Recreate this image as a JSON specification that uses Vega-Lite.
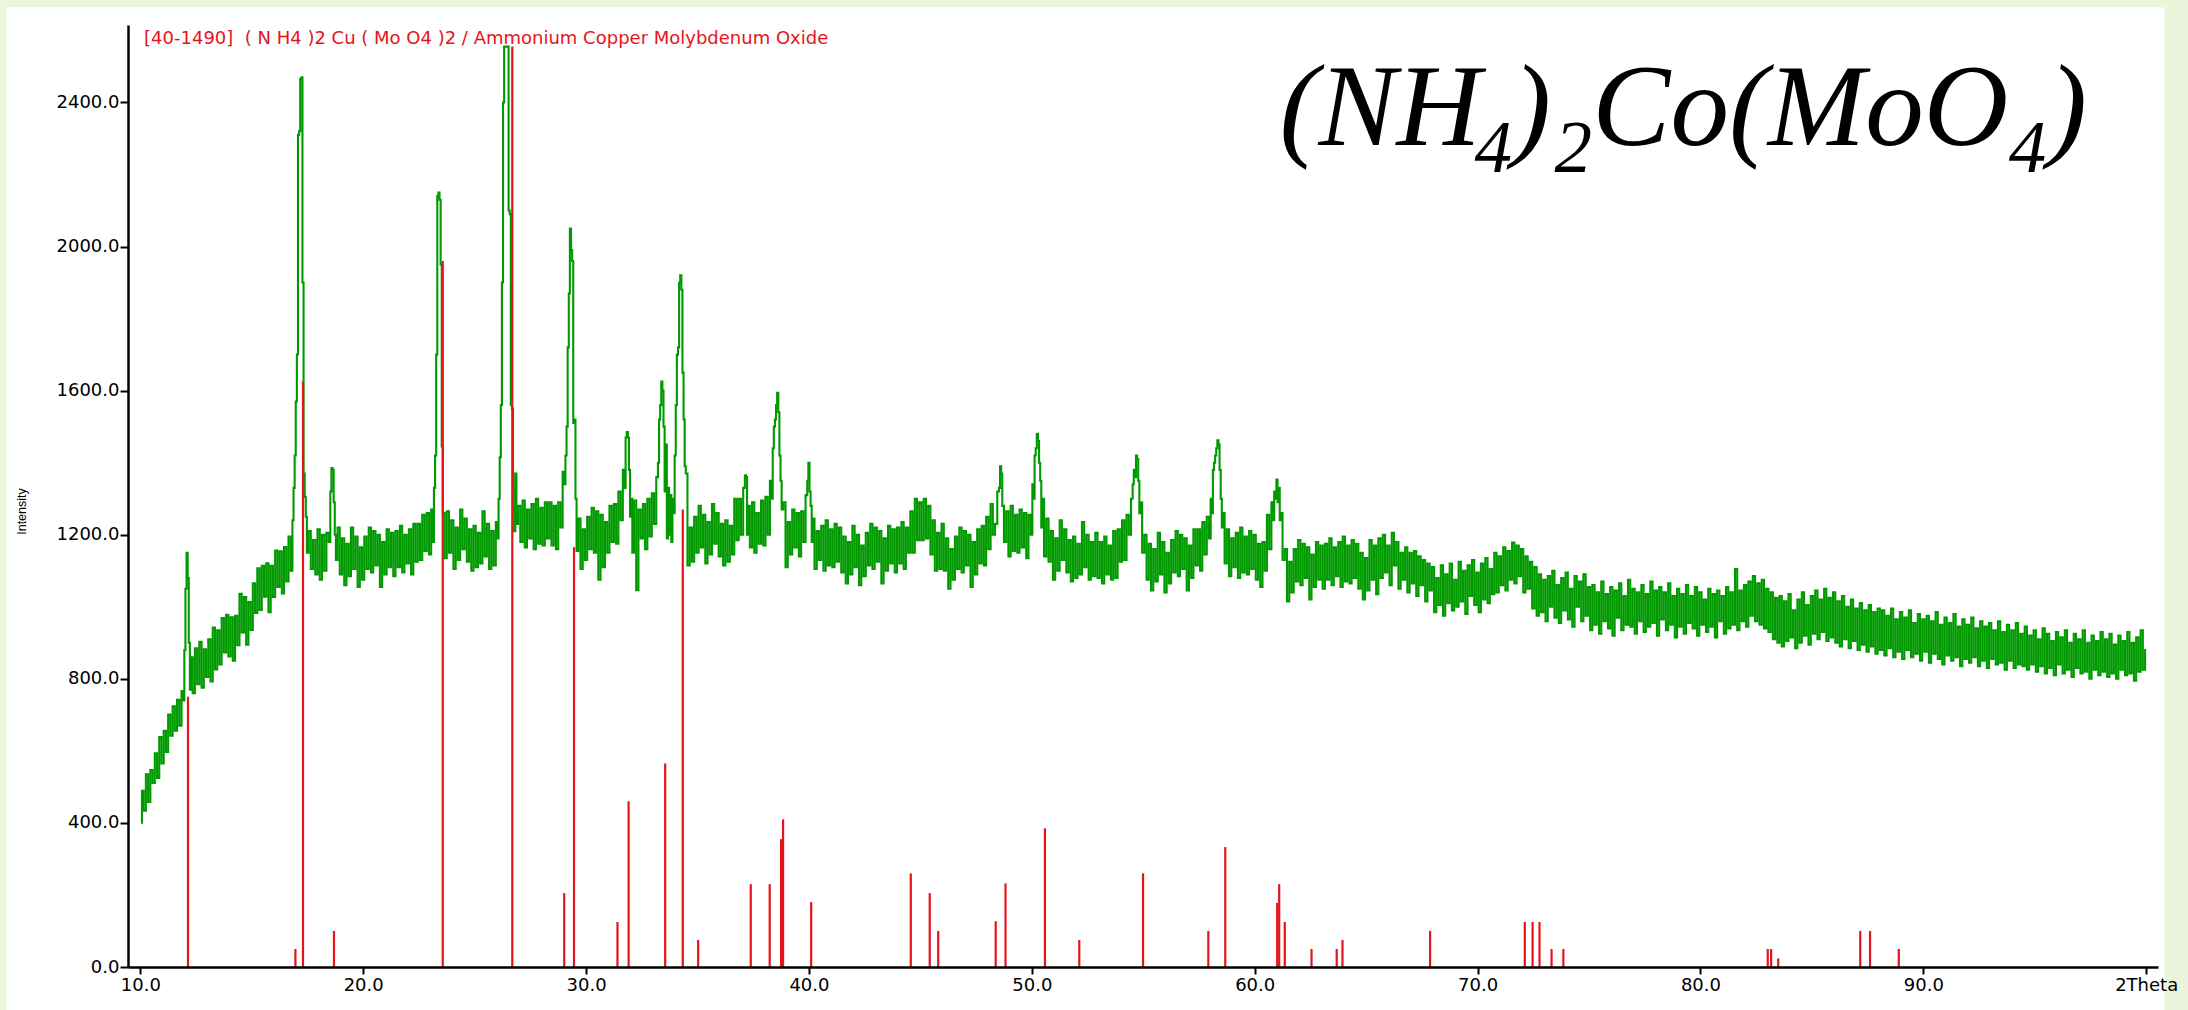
{
  "$schema": "https://vega.github.io/schema/vega-lite/v6.json",
  "width": 2030,
  "height": 942,
  "autosize": {"type": "none"},
  "padding": {"left": 128, "top": 25, "right": 30, "bottom": 43},
  "background": "#EBF5DC",
  "config": {"view": {"stroke": null}},
  "datasets": {
    "xrd": [
      {"t":10.05,"i":400},{"t":10.1,"i":489},{"t":10.2,"i":434},{"t":10.3,"i":535},{"t":10.4,"i":458},{"t":10.5,"i":547},{"t":10.6,"i":511},{"t":10.7,"i":593},{"t":10.8,"i":525},{"t":10.9,"i":638},
      {"t":11.0,"i":565},{"t":11.1,"i":656},{"t":11.2,"i":597},{"t":11.3,"i":701},{"t":11.4,"i":642},{"t":11.5,"i":724},{"t":11.6,"i":656},{"t":11.7,"i":742},{"t":11.8,"i":670},{"t":11.9,"i":766},{"t":11.95,"i":740},
      {"t":12.0,"i":880},{"t":12.05,"i":1050},{"t":12.1,"i":1150},{"t":12.15,"i":1080},{"t":12.2,"i":900},{"t":12.25,"i":770},{"t":12.3,"i":860},
      {"t":12.4,"i":760},{"t":12.5,"i":885},{"t":12.6,"i":785},{"t":12.7,"i":903},{"t":12.8,"i":775},{"t":12.9,"i":882},{"t":13.0,"i":805},{"t":13.1,"i":910},{"t":13.2,"i":793},{"t":13.3,"i":942},{"t":13.4,"i":826},{"t":13.5,"i":935},{"t":13.6,"i":840},{"t":13.7,"i":969},{"t":13.8,"i":873},{"t":13.9,"i":978},
      {"t":14.0,"i":862},{"t":14.1,"i":971},{"t":14.2,"i":850},{"t":14.3,"i":975},{"t":14.4,"i":893},{"t":14.5,"i":1036},{"t":14.6,"i":929},{"t":14.7,"i":1027},{"t":14.8,"i":895},{"t":14.9,"i":1013},
      {"t":15.0,"i":936},{"t":15.1,"i":1065},{"t":15.2,"i":983},{"t":15.3,"i":1107},{"t":15.4,"i":991},{"t":15.5,"i":1114},{"t":15.6,"i":1028},{"t":15.7,"i":1121},{"t":15.8,"i":985},{"t":15.9,"i":1114},
      {"t":16.0,"i":1027},{"t":16.1,"i":1156},{"t":16.2,"i":1055},{"t":16.3,"i":1154},{"t":16.4,"i":1037},{"t":16.5,"i":1166},{"t":16.6,"i":1070},{"t":16.7,"i":1195},{"t":16.8,"i":1100},{"t":16.85,"i":1240},{"t":16.9,"i":1330},{"t":16.95,"i":1420},
      {"t":17.0,"i":1570},{"t":17.05,"i":1700},{"t":17.1,"i":2310},{"t":17.15,"i":2320},{"t":17.2,"i":2465},{"t":17.25,"i":2470},{"t":17.3,"i":1900},{"t":17.35,"i":1370},{"t":17.4,"i":1305},{"t":17.45,"i":1250},{"t":17.5,"i":1150},
      {"t":17.6,"i":1210},{"t":17.7,"i":1105},{"t":17.8,"i":1185},{"t":17.9,"i":1090},{"t":18.0,"i":1215},{"t":18.1,"i":1075},{"t":18.2,"i":1200},{"t":18.3,"i":1100},{"t":18.4,"i":1205},{"t":18.5,"i":1180},{"t":18.55,"i":1320},{"t":18.6,"i":1385},{"t":18.65,"i":1380},{"t":18.7,"i":1290},{"t":18.75,"i":1200},{"t":18.8,"i":1130},{"t":18.9,"i":1220},
      {"t":19.0,"i":1090},{"t":19.1,"i":1190},{"t":19.2,"i":1060},{"t":19.3,"i":1175},{"t":19.4,"i":1085},{"t":19.5,"i":1220},{"t":19.6,"i":1105},{"t":19.7,"i":1195},{"t":19.8,"i":1055},{"t":19.9,"i":1165},
      {"t":20.0,"i":1075},{"t":20.1,"i":1195},{"t":20.2,"i":1105},{"t":20.3,"i":1220},{"t":20.4,"i":1095},{"t":20.5,"i":1210},{"t":20.6,"i":1115},{"t":20.7,"i":1200},{"t":20.8,"i":1055},{"t":20.9,"i":1180},
      {"t":21.0,"i":1090},{"t":21.1,"i":1215},{"t":21.2,"i":1110},{"t":21.3,"i":1205},{"t":21.4,"i":1085},{"t":21.5,"i":1210},{"t":21.6,"i":1110},{"t":21.7,"i":1225},{"t":21.8,"i":1095},{"t":21.9,"i":1200},
      {"t":22.0,"i":1120},{"t":22.1,"i":1215},{"t":22.2,"i":1090},{"t":22.3,"i":1230},{"t":22.4,"i":1125},{"t":22.5,"i":1230},{"t":22.6,"i":1130},{"t":22.7,"i":1255},{"t":22.8,"i":1155},{"t":22.9,"i":1260},
      {"t":23.0,"i":1145},{"t":23.1,"i":1270},{"t":23.15,"i":1180},{"t":23.2,"i":1330},{"t":23.25,"i":1420},{"t":23.3,"i":1700},{"t":23.35,"i":2140},{"t":23.4,"i":2150},{"t":23.45,"i":2130},{"t":23.5,"i":1950},{"t":23.55,"i":1445},{"t":23.6,"i":1260},
      {"t":23.7,"i":1135},{"t":23.8,"i":1265},{"t":23.9,"i":1150},{"t":24.0,"i":1240},{"t":24.1,"i":1105},{"t":24.2,"i":1220},{"t":24.3,"i":1130},{"t":24.4,"i":1270},{"t":24.5,"i":1160},{"t":24.6,"i":1245},{"t":24.7,"i":1125},{"t":24.8,"i":1215},{"t":24.9,"i":1100},
      {"t":25.0,"i":1225},{"t":25.1,"i":1110},{"t":25.2,"i":1205},{"t":25.3,"i":1120},{"t":25.4,"i":1265},{"t":25.5,"i":1140},{"t":25.6,"i":1230},{"t":25.7,"i":1105},{"t":25.8,"i":1210},{"t":25.9,"i":1115},
      {"t":26.0,"i":1235},{"t":26.05,"i":1190},{"t":26.1,"i":1300},{"t":26.15,"i":1415},{"t":26.2,"i":1560},{"t":26.25,"i":1900},{"t":26.3,"i":2400},{"t":26.35,"i":2555},{"t":26.4,"i":2555},{"t":26.45,"i":2555},{"t":26.5,"i":2555},{"t":26.55,"i":2100},{"t":26.6,"i":2090},{"t":26.65,"i":1560},{"t":26.7,"i":1550},{"t":26.75,"i":1330},
      {"t":26.8,"i":1210},{"t":26.85,"i":1370},{"t":26.9,"i":1230},{"t":27.0,"i":1280},{"t":27.1,"i":1180},{"t":27.2,"i":1295},{"t":27.3,"i":1165},{"t":27.4,"i":1270},{"t":27.5,"i":1190},{"t":27.6,"i":1285},{"t":27.7,"i":1160},{"t":27.8,"i":1300},{"t":27.9,"i":1175},
      {"t":28.0,"i":1275},{"t":28.1,"i":1170},{"t":28.2,"i":1290},{"t":28.3,"i":1190},{"t":28.4,"i":1290},{"t":28.5,"i":1170},{"t":28.6,"i":1280},{"t":28.7,"i":1160},{"t":28.8,"i":1290},{"t":28.9,"i":1220},
      {"t":29.0,"i":1375},{"t":29.05,"i":1340},{"t":29.1,"i":1420},{"t":29.15,"i":1500},{"t":29.2,"i":1720},{"t":29.25,"i":1870},{"t":29.3,"i":2050},{"t":29.35,"i":1990},{"t":29.4,"i":1960},{"t":29.45,"i":1510},{"t":29.5,"i":1520},{"t":29.55,"i":1300},
      {"t":29.6,"i":1155},{"t":29.7,"i":1245},{"t":29.8,"i":1105},{"t":29.9,"i":1215},{"t":30.0,"i":1130},{"t":30.1,"i":1250},{"t":30.2,"i":1160},{"t":30.3,"i":1275},{"t":30.4,"i":1150},{"t":30.5,"i":1265},{"t":30.6,"i":1075},{"t":30.7,"i":1255},{"t":30.8,"i":1110},{"t":30.9,"i":1235},
      {"t":31.0,"i":1150},{"t":31.1,"i":1280},{"t":31.2,"i":1180},{"t":31.3,"i":1285},{"t":31.4,"i":1175},{"t":31.5,"i":1320},{"t":31.6,"i":1240},{"t":31.7,"i":1380},{"t":31.75,"i":1330},{"t":31.8,"i":1470},{"t":31.85,"i":1485},{"t":31.9,"i":1470},{"t":31.95,"i":1380},{"t":32.0,"i":1250},{"t":32.05,"i":1300},{"t":32.1,"i":1150},
      {"t":32.2,"i":1295},{"t":32.3,"i":1046},{"t":32.4,"i":1270},{"t":32.5,"i":1190},{"t":32.6,"i":1285},{"t":32.7,"i":1160},{"t":32.8,"i":1300},{"t":32.9,"i":1195},{"t":33.0,"i":1315},{"t":33.1,"i":1230},{"t":33.2,"i":1360},{"t":33.25,"i":1400},{"t":33.3,"i":1520},{"t":33.35,"i":1560},{"t":33.4,"i":1625},{"t":33.45,"i":1600},{"t":33.5,"i":1500},{"t":33.55,"i":1320},{"t":33.6,"i":1450},{"t":33.65,"i":1190},{"t":33.7,"i":1330},{"t":33.75,"i":1200},{"t":33.8,"i":1310},{"t":33.85,"i":1180},{"t":33.9,"i":1300},{"t":33.95,"i":1260},
      {"t":34.0,"i":1420},{"t":34.05,"i":1560},{"t":34.1,"i":1700},{"t":34.15,"i":1720},{"t":34.2,"i":1900},{"t":34.25,"i":1920},{"t":34.3,"i":1880},{"t":34.35,"i":1650},{"t":34.4,"i":1520},{"t":34.45,"i":1390},{"t":34.5,"i":1370},
      {"t":34.6,"i":1115},{"t":34.7,"i":1220},{"t":34.8,"i":1125},{"t":34.9,"i":1250},{"t":35.0,"i":1150},{"t":35.1,"i":1280},{"t":35.2,"i":1165},{"t":35.3,"i":1255},{"t":35.4,"i":1120},{"t":35.5,"i":1235},{"t":35.6,"i":1145},{"t":35.7,"i":1285},{"t":35.8,"i":1175},{"t":35.9,"i":1260},
      {"t":36.0,"i":1140},{"t":36.1,"i":1230},{"t":36.2,"i":1115},{"t":36.3,"i":1240},{"t":36.4,"i":1125},{"t":36.5,"i":1225},{"t":36.6,"i":1145},{"t":36.7,"i":1300},{"t":36.8,"i":1185},{"t":36.9,"i":1300},
      {"t":37.0,"i":1200},{"t":37.1,"i":1330},{"t":37.15,"i":1365},{"t":37.2,"i":1360},{"t":37.25,"i":1200},{"t":37.3,"i":1280},
      {"t":37.4,"i":1165},{"t":37.5,"i":1290},{"t":37.6,"i":1150},{"t":37.7,"i":1260},{"t":37.8,"i":1175},{"t":37.9,"i":1295},{"t":38.0,"i":1170},{"t":38.1,"i":1305},{"t":38.2,"i":1200},{"t":38.3,"i":1350},{"t":38.35,"i":1300},{"t":38.4,"i":1440},{"t":38.45,"i":1500},{"t":38.5,"i":1520},{"t":38.55,"i":1560},{"t":38.6,"i":1594},{"t":38.65,"i":1540},{"t":38.7,"i":1420},{"t":38.75,"i":1350},{"t":38.8,"i":1270},
      {"t":38.9,"i":1290},{"t":39.0,"i":1110},{"t":39.1,"i":1235},{"t":39.2,"i":1145},{"t":39.3,"i":1270},{"t":39.4,"i":1165},{"t":39.5,"i":1260},{"t":39.6,"i":1140},{"t":39.7,"i":1265},{"t":39.8,"i":1180},{"t":39.9,"i":1310},{"t":39.95,"i":1350},{"t":40.0,"i":1400},{"t":40.05,"i":1320},{"t":40.1,"i":1280},{"t":40.15,"i":1180},
      {"t":40.2,"i":1245},{"t":40.3,"i":1105},{"t":40.4,"i":1210},{"t":40.5,"i":1130},{"t":40.6,"i":1225},{"t":40.7,"i":1100},{"t":40.8,"i":1240},{"t":40.9,"i":1115},
      {"t":41.0,"i":1215},{"t":41.1,"i":1110},{"t":41.2,"i":1230},{"t":41.3,"i":1125},{"t":41.4,"i":1220},{"t":41.5,"i":1095},{"t":41.6,"i":1195},{"t":41.7,"i":1065},{"t":41.8,"i":1180},{"t":41.9,"i":1090},
      {"t":42.0,"i":1225},{"t":42.1,"i":1110},{"t":42.2,"i":1200},{"t":42.3,"i":1060},{"t":42.4,"i":1170},{"t":42.5,"i":1085},{"t":42.6,"i":1205},{"t":42.7,"i":1115},{"t":42.8,"i":1230},{"t":42.9,"i":1105},
      {"t":43.0,"i":1220},{"t":43.1,"i":1125},{"t":43.2,"i":1210},{"t":43.3,"i":1065},{"t":43.4,"i":1190},{"t":43.5,"i":1100},{"t":43.6,"i":1225},{"t":43.7,"i":1120},{"t":43.8,"i":1215},{"t":43.9,"i":1095},
      {"t":44.0,"i":1220},{"t":44.1,"i":1120},{"t":44.2,"i":1235},{"t":44.3,"i":1105},{"t":44.4,"i":1220},{"t":44.5,"i":1150},
      {"t":44.6,"i":1265},{"t":44.7,"i":1150},{"t":44.8,"i":1300},{"t":44.9,"i":1185},{"t":45.0,"i":1290},{"t":45.1,"i":1185},{"t":45.2,"i":1300},{"t":45.3,"i":1190},{"t":45.4,"i":1280},{"t":45.5,"i":1145},{"t":45.6,"i":1240},{"t":45.7,"i":1100},{"t":45.8,"i":1205},{"t":45.9,"i":1105},{"t":46.0,"i":1230},
      {"t":46.1,"i":1100},{"t":46.2,"i":1190},{"t":46.3,"i":1050},{"t":46.4,"i":1160},{"t":46.5,"i":1075},{"t":46.6,"i":1195},{"t":46.7,"i":1105},{"t":46.8,"i":1220},{"t":46.9,"i":1095},
      {"t":47.0,"i":1210},{"t":47.1,"i":1115},{"t":47.2,"i":1200},{"t":47.3,"i":1055},{"t":47.4,"i":1180},{"t":47.5,"i":1090},{"t":47.6,"i":1215},{"t":47.7,"i":1120},{"t":47.8,"i":1225},{"t":47.9,"i":1115},
      {"t":48.0,"i":1250},{"t":48.1,"i":1160},{"t":48.2,"i":1285},{"t":48.3,"i":1200},{"t":48.4,"i":1230},{"t":48.5,"i":1320},{"t":48.55,"i":1330},{"t":48.6,"i":1390},{"t":48.65,"i":1370},{"t":48.7,"i":1280},{"t":48.8,"i":1180},
      {"t":48.9,"i":1265},{"t":49.0,"i":1140},{"t":49.1,"i":1280},{"t":49.2,"i":1155},{"t":49.3,"i":1255},{"t":49.4,"i":1150},{"t":49.5,"i":1270},{"t":49.6,"i":1165},{"t":49.7,"i":1260},{"t":49.8,"i":1135},{"t":49.9,"i":1255},
      {"t":50.0,"i":1200},{"t":50.05,"i":1340},{"t":50.1,"i":1300},{"t":50.15,"i":1420},{"t":50.2,"i":1440},{"t":50.25,"i":1480},{"t":50.3,"i":1460},{"t":50.35,"i":1400},{"t":50.4,"i":1350},{"t":50.45,"i":1220},{"t":50.5,"i":1300},{"t":50.6,"i":1140},
      {"t":50.7,"i":1245},{"t":50.8,"i":1125},{"t":50.9,"i":1210},{"t":51.0,"i":1075},{"t":51.1,"i":1190},{"t":51.2,"i":1100},{"t":51.3,"i":1240},{"t":51.4,"i":1130},{"t":51.5,"i":1215},{"t":51.6,"i":1095},{"t":51.7,"i":1185},{"t":51.8,"i":1070},{"t":51.9,"i":1195},
      {"t":52.0,"i":1080},{"t":52.1,"i":1175},{"t":52.2,"i":1090},{"t":52.3,"i":1235},{"t":52.4,"i":1110},{"t":52.5,"i":1200},{"t":52.6,"i":1075},{"t":52.7,"i":1180},{"t":52.8,"i":1085},{"t":52.9,"i":1205},
      {"t":53.0,"i":1080},{"t":53.1,"i":1180},{"t":53.2,"i":1065},{"t":53.3,"i":1195},{"t":53.4,"i":1090},{"t":53.5,"i":1170},{"t":53.6,"i":1075},{"t":53.7,"i":1210},{"t":53.8,"i":1080},{"t":53.9,"i":1215},
      {"t":54.0,"i":1125},{"t":54.1,"i":1240},{"t":54.2,"i":1130},{"t":54.3,"i":1255},{"t":54.4,"i":1200},{"t":54.5,"i":1300},{"t":54.55,"i":1340},{"t":54.6,"i":1380},{"t":54.65,"i":1360},{"t":54.7,"i":1420},{"t":54.75,"i":1410},{"t":54.8,"i":1350},{"t":54.85,"i":1260},{"t":54.9,"i":1290},{"t":55.0,"i":1150},
      {"t":55.1,"i":1200},{"t":55.2,"i":1075},{"t":55.3,"i":1175},{"t":55.4,"i":1045},{"t":55.5,"i":1160},{"t":55.6,"i":1070},{"t":55.7,"i":1205},{"t":55.8,"i":1090},{"t":55.9,"i":1180},
      {"t":56.0,"i":1040},{"t":56.1,"i":1150},{"t":56.2,"i":1065},{"t":56.3,"i":1185},{"t":56.4,"i":1095},{"t":56.5,"i":1210},{"t":56.6,"i":1085},{"t":56.7,"i":1200},{"t":56.8,"i":1105},{"t":56.9,"i":1190},
      {"t":57.0,"i":1045},{"t":57.1,"i":1170},{"t":57.2,"i":1080},{"t":57.3,"i":1215},{"t":57.4,"i":1115},{"t":57.5,"i":1215},{"t":57.6,"i":1100},{"t":57.7,"i":1235},{"t":57.8,"i":1145},{"t":57.9,"i":1250},
      {"t":58.0,"i":1190},{"t":58.05,"i":1300},{"t":58.1,"i":1260},{"t":58.15,"i":1380},{"t":58.2,"i":1400},{"t":58.25,"i":1420},{"t":58.3,"i":1440},{"t":58.35,"i":1462},{"t":58.4,"i":1450},{"t":58.45,"i":1380},{"t":58.5,"i":1300},{"t":58.55,"i":1220},{"t":58.6,"i":1260},{"t":58.7,"i":1120},
      {"t":58.8,"i":1215},{"t":58.9,"i":1085},{"t":59.0,"i":1190},{"t":59.1,"i":1110},{"t":59.2,"i":1205},{"t":59.3,"i":1080},{"t":59.4,"i":1220},{"t":59.5,"i":1095},{"t":59.6,"i":1195},{"t":59.7,"i":1090},{"t":59.8,"i":1210},{"t":59.9,"i":1105},
      {"t":60.0,"i":1200},{"t":60.1,"i":1075},{"t":60.2,"i":1175},{"t":60.3,"i":1055},{"t":60.4,"i":1180},{"t":60.5,"i":1100},{"t":60.6,"i":1255},{"t":60.7,"i":1160},{"t":60.8,"i":1290},{"t":60.85,"i":1240},{"t":60.9,"i":1320},{"t":60.95,"i":1300},{"t":61.0,"i":1353},{"t":61.05,"i":1290},{"t":61.1,"i":1330},{"t":61.15,"i":1240},{"t":61.2,"i":1260},{"t":61.3,"i":1130},
      {"t":61.4,"i":1160},{"t":61.5,"i":1015},{"t":61.6,"i":1125},{"t":61.7,"i":1040},{"t":61.8,"i":1160},{"t":61.9,"i":1070},{"t":62.0,"i":1185},{"t":62.1,"i":1060},{"t":62.2,"i":1175},{"t":62.3,"i":1080},{"t":62.4,"i":1165},{"t":62.5,"i":1020},{"t":62.6,"i":1145},{"t":62.7,"i":1055},{"t":62.8,"i":1180},{"t":62.9,"i":1075},
      {"t":63.0,"i":1170},{"t":63.1,"i":1050},{"t":63.2,"i":1175},{"t":63.3,"i":1075},{"t":63.4,"i":1190},{"t":63.5,"i":1060},{"t":63.6,"i":1165},{"t":63.7,"i":1085},{"t":63.8,"i":1180},{"t":63.9,"i":1055},
      {"t":64.0,"i":1195},{"t":64.1,"i":1070},{"t":64.2,"i":1170},{"t":64.3,"i":1065},{"t":64.4,"i":1185},{"t":64.5,"i":1080},{"t":64.6,"i":1175},{"t":64.7,"i":1050},{"t":64.8,"i":1150},{"t":64.9,"i":1020},
      {"t":65.0,"i":1135},{"t":65.1,"i":1045},{"t":65.2,"i":1185},{"t":65.3,"i":1075},{"t":65.4,"i":1170},{"t":65.5,"i":1035},{"t":65.6,"i":1190},{"t":65.7,"i":1080},{"t":65.8,"i":1200},{"t":65.9,"i":1095},
      {"t":66.0,"i":1170},{"t":66.1,"i":1060},{"t":66.2,"i":1205},{"t":66.3,"i":1115},{"t":66.4,"i":1180},{"t":66.5,"i":1050},{"t":66.6,"i":1150},{"t":66.7,"i":1075},{"t":66.8,"i":1165},{"t":66.9,"i":1040},
      {"t":67.0,"i":1150},{"t":67.1,"i":1065},{"t":67.2,"i":1155},{"t":67.3,"i":1030},{"t":67.4,"i":1140},{"t":67.5,"i":1060},{"t":67.6,"i":1130},{"t":67.7,"i":1015},{"t":67.8,"i":1120},{"t":67.9,"i":1045},
      {"t":68.0,"i":1110},{"t":68.1,"i":985},{"t":68.2,"i":1080},{"t":68.3,"i":1005},{"t":68.4,"i":1115},{"t":68.5,"i":975},{"t":68.6,"i":1090},{"t":68.7,"i":1010},{"t":68.8,"i":1120},{"t":68.9,"i":990},
      {"t":69.0,"i":1075},{"t":69.1,"i":1000},{"t":69.2,"i":1125},{"t":69.3,"i":1015},{"t":69.4,"i":1100},{"t":69.5,"i":980},{"t":69.6,"i":1115},{"t":69.7,"i":1030},{"t":69.8,"i":1130},{"t":69.9,"i":1005},
      {"t":70.0,"i":1095},{"t":70.1,"i":985},{"t":70.2,"i":1120},{"t":70.3,"i":1020},{"t":70.4,"i":1135},{"t":70.5,"i":1010},{"t":70.6,"i":1105},{"t":70.7,"i":1035},{"t":70.8,"i":1150},{"t":70.9,"i":1040},
      {"t":71.0,"i":1140},{"t":71.1,"i":1060},{"t":71.2,"i":1165},{"t":71.3,"i":1045},{"t":71.4,"i":1155},{"t":71.5,"i":1075},{"t":71.6,"i":1178},{"t":71.7,"i":1065},{"t":71.8,"i":1170},{"t":71.9,"i":1085},
      {"t":72.0,"i":1160},{"t":72.1,"i":1040},{"t":72.2,"i":1140},{"t":72.3,"i":1050},{"t":72.4,"i":1125},{"t":72.5,"i":995},{"t":72.6,"i":1110},{"t":72.7,"i":975},{"t":72.8,"i":1090},{"t":72.9,"i":985},
      {"t":73.0,"i":1075},{"t":73.1,"i":960},{"t":73.2,"i":1085},{"t":73.3,"i":1000},{"t":73.4,"i":1100},{"t":73.5,"i":970},{"t":73.6,"i":1060},{"t":73.7,"i":955},{"t":73.8,"i":1080},{"t":73.9,"i":990},
      {"t":74.0,"i":1095},{"t":74.1,"i":965},{"t":74.2,"i":1050},{"t":74.3,"i":945},{"t":74.4,"i":1085},{"t":74.5,"i":1000},{"t":74.6,"i":1070},{"t":74.7,"i":960},{"t":74.8,"i":1090},{"t":74.9,"i":975},
      {"t":75.0,"i":1055},{"t":75.1,"i":935},{"t":75.2,"i":1060},{"t":75.3,"i":950},{"t":75.4,"i":1040},{"t":75.5,"i":925},{"t":75.6,"i":1070},{"t":75.7,"i":960},{"t":75.8,"i":1035},{"t":75.9,"i":940},
      {"t":76.0,"i":1055},{"t":76.1,"i":920},{"t":76.2,"i":1045},{"t":76.3,"i":970},{"t":76.4,"i":1065},{"t":76.5,"i":935},{"t":76.6,"i":1030},{"t":76.7,"i":950},{"t":76.8,"i":1075},{"t":76.9,"i":945},
      {"t":77.0,"i":1050},{"t":77.1,"i":925},{"t":77.2,"i":1040},{"t":77.3,"i":960},{"t":77.4,"i":1060},{"t":77.5,"i":930},{"t":77.6,"i":1035},{"t":77.7,"i":945},{"t":77.8,"i":1070},{"t":77.9,"i":955},
      {"t":78.0,"i":1045},{"t":78.1,"i":920},{"t":78.2,"i":1055},{"t":78.3,"i":965},{"t":78.4,"i":1040},{"t":78.5,"i":935},{"t":78.6,"i":1065},{"t":78.7,"i":950},{"t":78.8,"i":1030},{"t":78.9,"i":915},
      {"t":79.0,"i":1050},{"t":79.1,"i":945},{"t":79.2,"i":1035},{"t":79.3,"i":925},{"t":79.4,"i":1060},{"t":79.5,"i":955},{"t":79.6,"i":1030},{"t":79.7,"i":940},{"t":79.8,"i":1055},{"t":79.9,"i":920},
      {"t":80.0,"i":1040},{"t":80.1,"i":950},{"t":80.2,"i":1020},{"t":80.3,"i":930},{"t":80.4,"i":1050},{"t":80.5,"i":945},{"t":80.6,"i":1035},{"t":80.7,"i":915},{"t":80.8,"i":1045},{"t":80.9,"i":960},
      {"t":81.0,"i":1030},{"t":81.1,"i":925},{"t":81.2,"i":1055},{"t":81.3,"i":940},{"t":81.4,"i":1040},{"t":81.5,"i":950},{"t":81.6,"i":1105},{"t":81.7,"i":935},{"t":81.8,"i":1045},{"t":81.9,"i":960},
      {"t":82.0,"i":1060},{"t":82.1,"i":945},{"t":82.2,"i":1070},{"t":82.3,"i":975},{"t":82.4,"i":1085},{"t":82.5,"i":960},{"t":82.6,"i":1065},{"t":82.7,"i":950},{"t":82.8,"i":1075},{"t":82.9,"i":940},
      {"t":83.0,"i":1050},{"t":83.1,"i":930},{"t":83.2,"i":1040},{"t":83.3,"i":910},{"t":83.4,"i":1025},{"t":83.5,"i":900},{"t":83.6,"i":1030},{"t":83.7,"i":890},{"t":83.8,"i":1015},{"t":83.9,"i":905},
      {"t":84.0,"i":1035},{"t":84.1,"i":915},{"t":84.2,"i":990},{"t":84.3,"i":885},{"t":84.4,"i":1020},{"t":84.5,"i":900},{"t":84.6,"i":1040},{"t":84.7,"i":920},{"t":84.8,"i":1005},{"t":84.9,"i":895},
      {"t":85.0,"i":1030},{"t":85.1,"i":925},{"t":85.2,"i":1045},{"t":85.3,"i":910},{"t":85.4,"i":1020},{"t":85.5,"i":930},{"t":85.6,"i":1050},{"t":85.7,"i":905},{"t":85.8,"i":1025},{"t":85.9,"i":915},
      {"t":86.0,"i":1040},{"t":86.1,"i":900},{"t":86.2,"i":1015},{"t":86.3,"i":890},{"t":86.4,"i":1030},{"t":86.5,"i":910},{"t":86.6,"i":1000},{"t":86.7,"i":885},{"t":86.8,"i":1020},{"t":86.9,"i":905},
      {"t":87.0,"i":995},{"t":87.1,"i":880},{"t":87.2,"i":1010},{"t":87.3,"i":895},{"t":87.4,"i":990},{"t":87.5,"i":875},{"t":87.6,"i":1005},{"t":87.7,"i":890},{"t":87.8,"i":985},{"t":87.9,"i":870},
      {"t":88.0,"i":995},{"t":88.1,"i":880},{"t":88.2,"i":990},{"t":88.3,"i":865},{"t":88.4,"i":975},{"t":88.5,"i":885},{"t":88.6,"i":995},{"t":88.7,"i":860},{"t":88.8,"i":965},{"t":88.9,"i":875},
      {"t":89.0,"i":985},{"t":89.1,"i":855},{"t":89.2,"i":970},{"t":89.3,"i":880},{"t":89.4,"i":990},{"t":89.5,"i":860},{"t":89.6,"i":955},{"t":89.7,"i":870},{"t":89.8,"i":980},{"t":89.9,"i":850},
      {"t":90.0,"i":965},{"t":90.1,"i":875},{"t":90.2,"i":975},{"t":90.3,"i":845},{"t":90.4,"i":960},{"t":90.5,"i":870},{"t":90.6,"i":985},{"t":90.7,"i":855},{"t":90.8,"i":950},{"t":90.9,"i":840},
      {"t":91.0,"i":970},{"t":91.1,"i":865},{"t":91.2,"i":955},{"t":91.3,"i":850},{"t":91.4,"i":980},{"t":91.5,"i":860},{"t":91.6,"i":945},{"t":91.7,"i":835},{"t":91.8,"i":965},{"t":91.9,"i":855},
      {"t":92.0,"i":950},{"t":92.1,"i":845},{"t":92.2,"i":970},{"t":92.3,"i":860},{"t":92.4,"i":940},{"t":92.5,"i":835},{"t":92.6,"i":960},{"t":92.7,"i":850},{"t":92.8,"i":945},{"t":92.9,"i":830},
      {"t":93.0,"i":955},{"t":93.1,"i":855},{"t":93.2,"i":935},{"t":93.3,"i":840},{"t":93.4,"i":960},{"t":93.5,"i":845},{"t":93.6,"i":930},{"t":93.7,"i":825},{"t":93.8,"i":950},{"t":93.9,"i":850},
      {"t":94.0,"i":935},{"t":94.1,"i":830},{"t":94.2,"i":955},{"t":94.3,"i":840},{"t":94.4,"i":925},{"t":94.5,"i":835},{"t":94.6,"i":945},{"t":94.7,"i":825},{"t":94.8,"i":920},{"t":94.9,"i":840},
      {"t":95.0,"i":935},{"t":95.1,"i":820},{"t":95.2,"i":910},{"t":95.3,"i":835},{"t":95.4,"i":940},{"t":95.5,"i":815},{"t":95.6,"i":925},{"t":95.7,"i":830},{"t":95.8,"i":905},{"t":95.9,"i":810},
      {"t":96.0,"i":930},{"t":96.1,"i":840},{"t":96.2,"i":915},{"t":96.3,"i":815},{"t":96.4,"i":935},{"t":96.5,"i":825},{"t":96.6,"i":900},{"t":96.7,"i":805},{"t":96.8,"i":925},{"t":96.9,"i":830},
      {"t":97.0,"i":910},{"t":97.1,"i":815},{"t":97.2,"i":935},{"t":97.3,"i":820},{"t":97.4,"i":900},{"t":97.5,"i":800},{"t":97.6,"i":920},{"t":97.7,"i":825},{"t":97.8,"i":905},{"t":97.9,"i":810},
      {"t":98.0,"i":930},{"t":98.1,"i":820},{"t":98.2,"i":910},{"t":98.3,"i":805},{"t":98.4,"i":925},{"t":98.5,"i":815},{"t":98.6,"i":895},{"t":98.7,"i":800},{"t":98.8,"i":920},{"t":98.9,"i":825},
      {"t":99.0,"i":905},{"t":99.1,"i":810},{"t":99.2,"i":930},{"t":99.3,"i":815},{"t":99.4,"i":900},{"t":99.5,"i":795},{"t":99.6,"i":915},{"t":99.7,"i":820},{"t":99.8,"i":935},{"t":99.9,"i":825},{"t":100.0,"i":880}
    ],
    "ref": [
      {"t":12.14,"i":750},{"t":16.96,"i":50},{"t":17.30,"i":1625},{"t":18.69,"i":100},{"t":23.57,"i":1960},{"t":26.69,"i":2555},{"t":29.02,"i":205},{"t":29.46,"i":1165},
      {"t":31.41,"i":125},{"t":31.91,"i":460},{"t":33.55,"i":565},{"t":34.34,"i":1270},{"t":35.03,"i":75},{"t":37.39,"i":230},{"t":38.24,"i":230},{"t":38.75,"i":355},{"t":38.84,"i":410},
      {"t":40.10,"i":180},{"t":44.57,"i":260},{"t":45.42,"i":205},{"t":45.80,"i":100},{"t":48.38,"i":127},{"t":48.82,"i":232},{"t":50.59,"i":385},{"t":52.13,"i":75},{"t":54.99,"i":260},
      {"t":57.92,"i":100},{"t":58.68,"i":333},{"t":61.01,"i":178},{"t":61.10,"i":230},{"t":61.35,"i":125},{"t":62.55,"i":50},{"t":63.68,"i":50},{"t":63.94,"i":75},{"t":67.87,"i":100},
      {"t":72.12,"i":125},{"t":72.47,"i":125},{"t":72.78,"i":125},{"t":73.32,"i":50},{"t":73.85,"i":50},{"t":83.02,"i":50},{"t":83.17,"i":50},{"t":83.49,"i":24},{"t":87.17,"i":100},{"t":87.61,"i":100},{"t":88.90,"i":50}
    ]
  },
  "layer": [
    {
      "data": {"values": [{}]},
      "mark": {"type": "rect", "fill": "#ffffff", "clip": false},
      "encoding": {
        "x": {"datum": 4.0, "type": "quantitative", "scale": {"domain": [9.448, 100.53], "nice": false, "zero": false}},
        "x2": {"datum": 100.82},
        "y": {"datum": 2664, "type": "quantitative", "scale": {"domain": [0, 2615], "nice": false, "zero": false}},
        "y2": {"datum": -130}
      }
    },
    {
      "data": {"name": "xrd"},
      "mark": {"type": "line", "color": "#009a00", "strokeWidth": 2.1, "interpolate": "step", "clip": true},
      "encoding": {
        "x": {
          "field": "t", "type": "quantitative",
          "scale": {"domain": [9.448, 100.53], "nice": false, "zero": false},
          "axis": {
            "title": null, "values": [10,20,30,40,50,60,70,80,90,100],
            "labelExpr": "datum.value >= 100 ? '2Theta' : format(datum.value, '.1f')",
            "grid": false, "zindex": 1,
            "domainColor": "#000000", "domainWidth": 2.5, "tickColor": "#000000", "tickWidth": 2, "tickSize": 7,
            "labelFont": "DejaVu Sans", "labelFontSize": 18, "labelColor": "#000000", "labelPadding": 2, "labelFlush": false, "labelOverlap": false
          }
        },
        "y": {
          "field": "i", "type": "quantitative",
          "scale": {"domain": [0, 2615], "nice": false, "zero": false},
          "axis": {
            "title": "Intensity", "values": [0,400,800,1200,1600,2000,2400], "format": ".1f",
            "grid": false, "zindex": 1,
            "domainColor": "#000000", "domainWidth": 2.5, "tickColor": "#000000", "tickWidth": 2, "tickSize": 8,
            "labelFont": "DejaVu Sans", "labelFontSize": 18, "labelColor": "#000000", "labelPadding": 1, "labelFlush": false, "labelOverlap": false,
            "titleFont": "Liberation Sans", "titleFontSize": 12.5, "titleFontWeight": "normal", "titleColor": "#000000",
            "titleAngle": -90, "titleX": -107, "titleY": 486, "titleAlign": "center", "titleBaseline": "middle"
          }
        }
      }
    },
    {
      "data": {"name": "ref"},
      "mark": {"type": "rule", "color": "#e5141b", "strokeWidth": 2.2, "clip": true},
      "encoding": {
        "x": {"field": "t", "type": "quantitative"},
        "y": {"field": "i", "type": "quantitative"},
        "y2": {"datum": 0}
      }
    },
    {
      "data": {"values": [{}]},
      "mark": {"type": "text", "text": "[40-1490]\u00a0 ( N H4 )2 Cu ( Mo O4 )2 / Ammonium Copper Molybdenum Oxide", "font": "DejaVu Sans", "fontSize": 18, "color": "#e5141b", "align": "left", "baseline": "alphabetic"},
      "encoding": {"x": {"datum": 10.17, "type": "quantitative"}, "y": {"datum": 2561, "type": "quantitative"}}
    },
    {
      "data": {"values": [{}]},
      "mark": {"type": "text", "text": "(NH", "font": "Liberation Serif", "fontStyle": "italic", "fontSize": 117, "color": "#000000", "align": "left", "baseline": "alphabetic"},
      "encoding": {"x": {"datum": 61.11, "type": "quantitative"}, "y": {"datum": 2283, "type": "quantitative"}}
    },
    {
      "data": {"values": [{}]},
      "mark": {"type": "text", "text": "4", "font": "Liberation Serif", "fontStyle": "italic", "fontSize": 75, "color": "#000000", "align": "left", "baseline": "alphabetic"},
      "encoding": {"x": {"datum": 69.86, "type": "quantitative"}, "y": {"datum": 2206, "type": "quantitative"}}
    },
    {
      "data": {"values": [{}]},
      "mark": {"type": "text", "text": ")", "font": "Liberation Serif", "fontStyle": "italic", "fontSize": 117, "color": "#000000", "align": "left", "baseline": "alphabetic"},
      "encoding": {"x": {"datum": 71.55, "type": "quantitative"}, "y": {"datum": 2283, "type": "quantitative"}}
    },
    {
      "data": {"values": [{}]},
      "mark": {"type": "text", "text": "2", "font": "Liberation Serif", "fontStyle": "italic", "fontSize": 75, "color": "#000000", "align": "left", "baseline": "alphabetic"},
      "encoding": {"x": {"datum": 73.45, "type": "quantitative"}, "y": {"datum": 2206, "type": "quantitative"}}
    },
    {
      "data": {"values": [{}]},
      "mark": {"type": "text", "text": "Co(MoO", "font": "Liberation Serif", "fontStyle": "italic", "fontSize": 117, "color": "#000000", "align": "left", "baseline": "alphabetic"},
      "encoding": {"x": {"datum": 75.15, "type": "quantitative"}, "y": {"datum": 2283, "type": "quantitative"}}
    },
    {
      "data": {"values": [{}]},
      "mark": {"type": "text", "text": "4", "font": "Liberation Serif", "fontStyle": "italic", "fontSize": 75, "color": "#000000", "align": "left", "baseline": "alphabetic"},
      "encoding": {"x": {"datum": 93.83, "type": "quantitative"}, "y": {"datum": 2206, "type": "quantitative"}}
    },
    {
      "data": {"values": [{}]},
      "mark": {"type": "text", "text": ")", "font": "Liberation Serif", "fontStyle": "italic", "fontSize": 117, "color": "#000000", "align": "left", "baseline": "alphabetic"},
      "encoding": {"x": {"datum": 95.6, "type": "quantitative"}, "y": {"datum": 2283, "type": "quantitative"}}
    }
  ]
}
